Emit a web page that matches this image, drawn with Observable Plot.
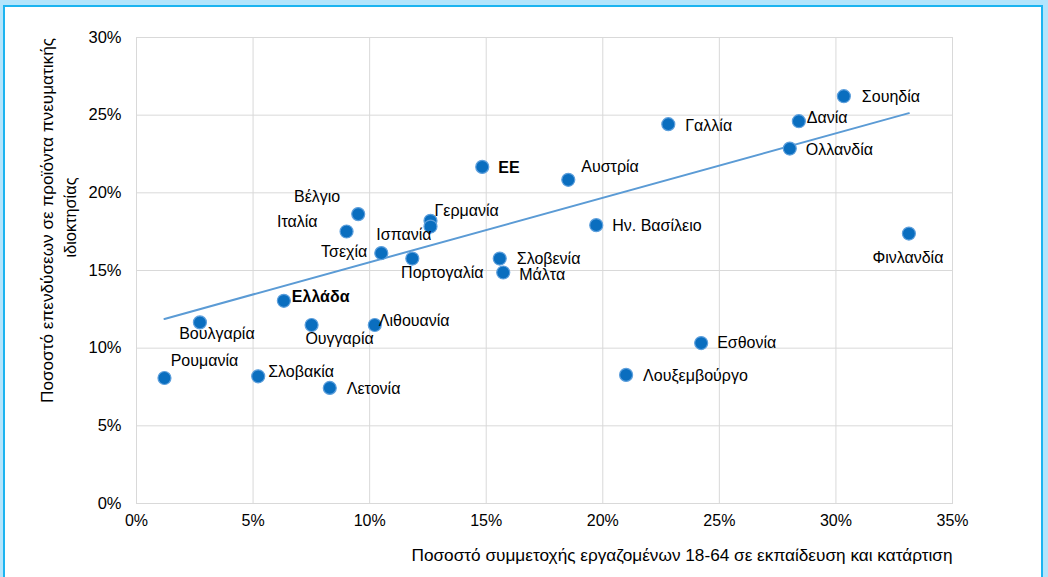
<!DOCTYPE html>
<html><head><meta charset="utf-8">
<script src="https://cdn.jsdelivr.net/npm/d3@7"></script>
<script src="https://cdn.jsdelivr.net/npm/@observablehq/plot@0.6"></script>
<style>
html,body{margin:0;padding:0;background:#b3e5fc;width:1048px;height:577px;overflow:hidden;font-family:"Liberation Sans",Arial,sans-serif;}
#frame{position:absolute;left:3px;top:5px;width:1036px;height:600px;background:#fff;border:2px solid #1cb4f0;border-bottom:none;}
#chart{position:absolute;left:0;top:0;}
</style></head><body><div id="frame"></div><div id="chart"></div>
<script>
// Data
const countries = ["Σουηδία","Δανία","Ολλανδία","Γαλλία","ΕΕ","Αυστρία","Βέλγιο","Ιταλία","Γερμανία","Ισπανία","Τσεχία","Πορτογαλία","Σλοβενία","Μάλτα","Ην. Βασίλειο","Φινλανδία","Ελλάδα","Βουλγαρία","Ουγγαρία","Λιθουανία","Ρουμανία","Σλοβακία","Λετονία","Εσθονία","Λουξεμβούργο"];
const training = [30.34,28.41,28.02,22.81,14.83,18.52,9.51,9.01,12.61,12.61,10.50,11.83,15.58,15.73,19.72,33.13,6.32,2.72,7.51,10.22,1.20,5.22,8.29,24.22,21.00];
const ipInvestment = [26.22,24.61,22.85,24.42,21.67,20.84,18.63,17.51,18.20,17.83,16.12,15.77,15.77,14.87,17.92,17.38,13.05,11.66,11.49,11.49,8.08,8.19,7.44,10.33,8.28];
const highlighted = ["ΕΕ","Ελλάδα"];
const trendX = [1.20, 33.13];
const trendY = [11.88, 25.13];
const xTicks = [0,5,10,15,20,25,30,35];
const yTicks = [0,5,10,15,20,25,30];
const xTitle = "Ποσοστό συμμετοχής εργαζομένων 18-64 σε εκπαίδευση και κατάρτιση";
const yTitleLine1 = "Ποσοστό επενδύσεων σε προϊόντα πνευματικής";
const yTitleLine2 = "ιδιοκτησίας";

// Label placement (layout only): [textAnchor, dx, dy]
const labelPlacement = [
  ["start",18,1],["start",8,-3],["start",16,1],["start",17,2],["start",16,1],["start",13,-13],
  ["end",-18,-17],["end",-29,-10],["start",4,-10],["end",1,8],["end",-14,-1],["middle",30,14],
  ["start",17,0],["start",16,2],["start",16,1],["middle",-1,24],["start",8,-4],["middle",17,11],
  ["middle",28,14],["start",4,-4],["middle",40,-17],["start",10,-4],["start",17,1],["start",16,0],["start",17,1]
];

const data = countries.map((c,i)=>({name:c, x:training[i], y:ipInvestment[i]}));
const trend = trendX.map((x,i)=>({x, y:trendY[i]}));

const labelMarks = data.map((d,i)=>{
  const [anchor,dx,dy] = labelPlacement[i];
  return Plot.text([d], {x:"x", y:"y", text:"name", textAnchor:anchor, dx, dy,
    fontSize:16, fill:"#000", fontWeight: highlighted.includes(d.name) ? "bold" : "normal"});
});

const plot = Plot.plot({
  width:1048, height:577,
  marginLeft:136, marginRight:96, marginTop:37, marginBottom:74,
  style:{background:"transparent", fontFamily:"'Liberation Sans', Arial, sans-serif", color:"#000"},
  x:{domain:[0,35]},
  y:{domain:[0,30]},
  marks:[
    Plot.gridX(xTicks, {stroke:"#d9d9d9", strokeOpacity:1}),
    Plot.gridY(yTicks, {stroke:"#d9d9d9", strokeOpacity:1}),
    Plot.frame({stroke:"#d9d9d9"}),
    Plot.axisX(xTicks, {tickSize:0, tickPadding:11, tickFormat:d=>d+"%", fontSize:16, label:null, fill:"#000"}),
    Plot.axisY(yTicks, {tickSize:0, tickPadding:15, tickFormat:d=>d+"%", fontSize:16.5, label:null, fill:"#000"}),
    Plot.line(trend, {x:"x", y:"y", stroke:"#5b9bd5", strokeWidth:2}),
    Plot.dot(data, {x:"x", y:"y", r:6.5, fill:"#0a6ebf", stroke:"#5d9fdc", strokeWidth:1.2}),
    ...labelMarks,
    Plot.text([xTitle], {frameAnchor:"bottom-right", textAnchor:"end", dy:57, fontSize:16, fill:"#000", className:"xtitle"}),
    Plot.text([yTitleLine1], {frameAnchor:"left", textAnchor:"middle", rotate:-90, dx:-89, dy:-50, fontSize:16, fill:"#000", className:"ytitle1"}),
    Plot.text([yTitleLine2], {frameAnchor:"left", textAnchor:"middle", rotate:-90, dx:-66, dy:-53, fontSize:16, fill:"#000", className:"ytitle2"})
  ]
});
document.getElementById("chart").appendChild(plot);
// stretch titles to the widths seen in the reference
d3.select(plot).selectAll(".xtitle text").attr("textLength", 541).attr("lengthAdjust", "spacingAndGlyphs");
d3.select(plot).selectAll(".ytitle1 text").attr("textLength", 365).attr("lengthAdjust", "spacingAndGlyphs");
d3.select(plot).selectAll(".ytitle2 text").attr("textLength", 80).attr("lengthAdjust", "spacingAndGlyphs");
</script></body></html>
